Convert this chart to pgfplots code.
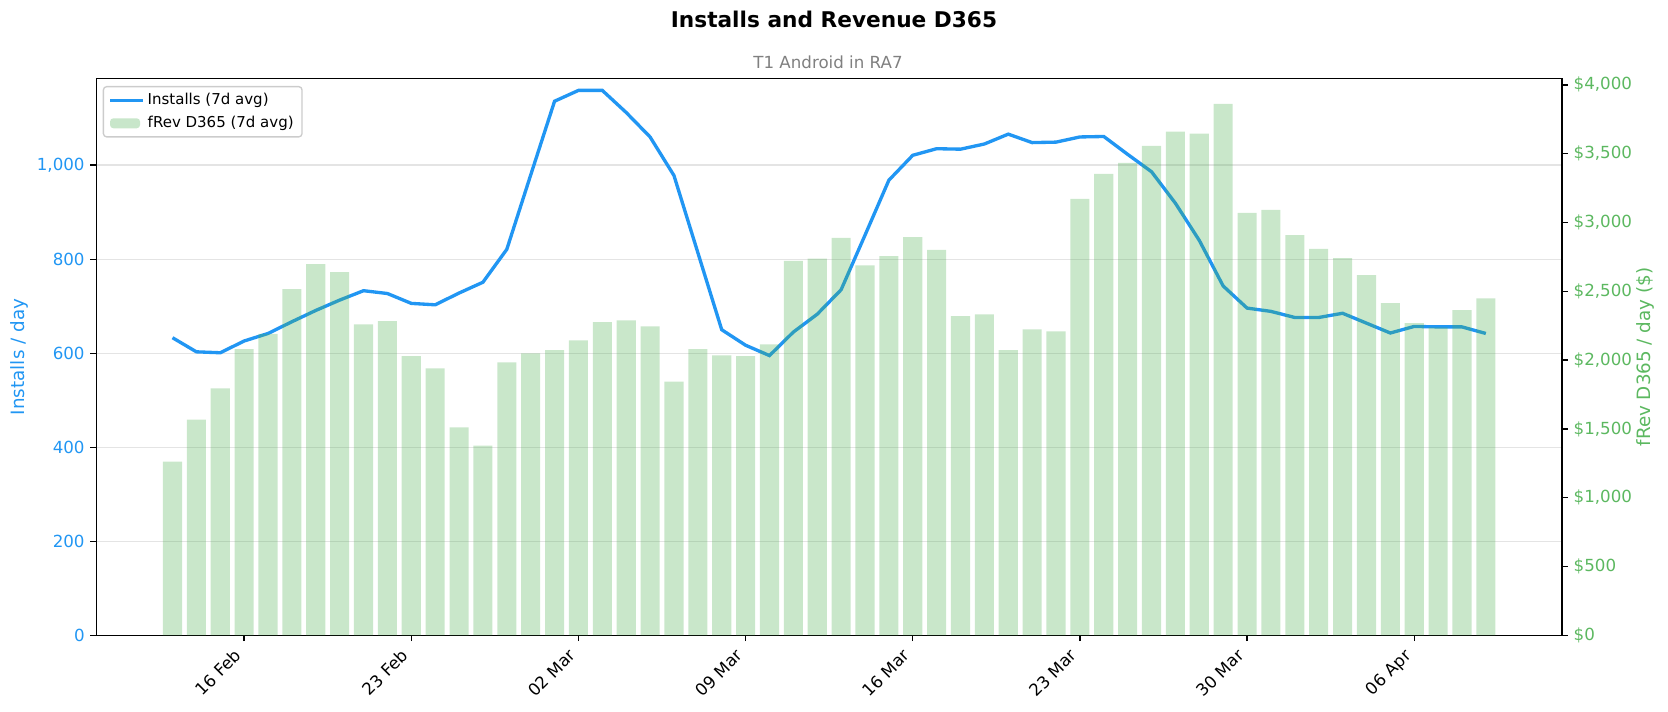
\documentclass[border=0pt]{standalone}
\usepackage{fontspec}
\setmainfont{DejaVu Sans}
\usepackage{pgfplots}
\usepackage{pgfplotstable}
\pgfplotsset{compat=1.18}
\definecolor{blue1}{HTML}{2196F3}
\definecolor{green1}{HTML}{4CAF50}
\definecolor{greentxt}{HTML}{5CB860}
\definecolor{gridc}{HTML}{E4E4E4}
\definecolor{legc}{HTML}{CCCCCC}
\definecolor{subgray}{HTML}{808080}
\pgfplotsset{
  lineleg/.style={legend image code/.code={\draw[##1] (0pt,0pt) -- (19.6pt,0pt);}},
  barleg/.style={legend image code/.code={\fill[##1] (0pt,-3pt) rectangle (18pt,3pt);}},
}
\pgfplotstableread{
x inst rev
0 633 1263
1 603 1568
2 601 1795
3 626 2079
4 642 2190
5 667 2516
6 691 2697
7 713 2640
8 733 2260
9 727 2283
10 706 2028
11 703 1940
12 728 1511
13 751 1379
14 821 1984
15 979 2048
16 1136 2072
17 1159 2144
18 1159 2276
19 1112 2289
20 1060 2245
21 978 1844
22 814 2079
23 650 2035
24 617 2028
25 595 2115
26 645 2720
27 683 2738
28 735 2888
29 851 2689
30 968 2756
31 1021 2893
32 1035 2800
33 1034 2320
34 1045 2332
35 1066 2072
36 1048 2224
37 1049 2208
38 1060 3172
39 1061 3353
40 1023 3433
41 986 3557
42 919 3660
43 840 3645
44 743 3862
45 696 3069
46 689 3092
47 676 2908
48 676 2808
49 685 2741
50 664 2617
51 643 2413
52 657 2268
53 656 2237
54 656 2363
55 642 2449
}\data
\begin{document}
\begin{tikzpicture}
\path[use as bounding box] (0,0) rectangle (1000.8pt,427.2pt);
\begin{axis}[
  at={(57.8pt,46pt)}, anchor=south west,
  scale only axis, width=879.4pt, height=334pt,
  xmin=-3.19, xmax=58.19, ymin=0, ymax=1184,
  axis line style={line width=0.8pt},
  tick align=outside, major tick length=3.5pt,
  tick style={line width=0.8pt, black},
  xtick={3,10,17,24,31,38,45,52},
  xticklabels={16 Feb,23 Feb,02 Mar,09 Mar,16 Mar,23 Mar,30 Mar,06 Apr},
  xtick pos=bottom, ytick pos=left,
  ytick={0,200,400,600,800,1000},
  xticklabel style={xshift=-6.5pt, yshift=0.8pt, rotate=45, anchor=north east, font=\fontsize{10}{12}\selectfont},
  yticklabel style={font=\fontsize{10}{12}\selectfont, text=blue1, /pgf/number format/1000 sep={,}},
  /pgf/number format/assume math mode=true,
  ymajorgrids, major grid style={gridc, line width=0.8pt},
  ylabel={Installs / day},
  ylabel style={text=blue1, font=\fontsize{11}{13}\selectfont, at={(axis description cs:-0.0528,0.5)}, anchor=center},
]
\addplot[blue1, line width=2pt] table[x=x,y=inst]{\data};
\end{axis}
\begin{axis}[
  at={(57.8pt,46pt)}, anchor=south west,
  scale only axis, width=879.4pt, height=334pt,
  xmin=-3.19, xmax=58.19, ymin=0, ymax=4045,
  axis x line=none, axis y line*=right,
  axis line style={line width=0.8pt},
  tick align=outside, major tick length=3.5pt,
  tick style={line width=0.8pt, black},
  ytick={0,500,1000,1500,2000,2500,3000,3500,4000},
  /pgf/number format/assume math mode=true,
  yticklabel={\$\pgfmathprintnumber[1000 sep={,}]{\tick}},
  yticklabel style={font=\fontsize{10}{12}\selectfont, text=greentxt},
  ylabel={fRev D365 / day (\$)},
  ylabel style={text=greentxt, font=\fontsize{11}{13}\selectfont, at={(axis description cs:1.0566,0.5)}, anchor=center},
  legend cell align=left,
  legend style={at={(0.00437,0.9869)}, anchor=north west, draw=legc, line width=0.8pt, rounded corners=2pt, fill=white, font=\fontsize{9}{11}\selectfont, inner xsep=3pt, inner ysep=2pt, row sep=1.5pt},
]
\addlegendimage{blue1, line width=2pt, lineleg}
\addlegendentry{Installs (7d avg)}
\addplot[ybar, bar width=0.8, fill=green1, fill opacity=0.3, draw=none, barleg] table[x=x,y=rev]{\data};
\addlegendentry{fRev D365 (7d avg)}
\end{axis}
\node[font=\fontsize{13}{15}\selectfont\bfseries, anchor=base] at (500.4pt,410.8pt) {Installs and Revenue D365};
\node[font=\fontsize{10}{12}\selectfont, text=subgray, anchor=base] at (496.8pt,386.2pt) {T1 Android in RA7};
\end{tikzpicture}
\end{document}
